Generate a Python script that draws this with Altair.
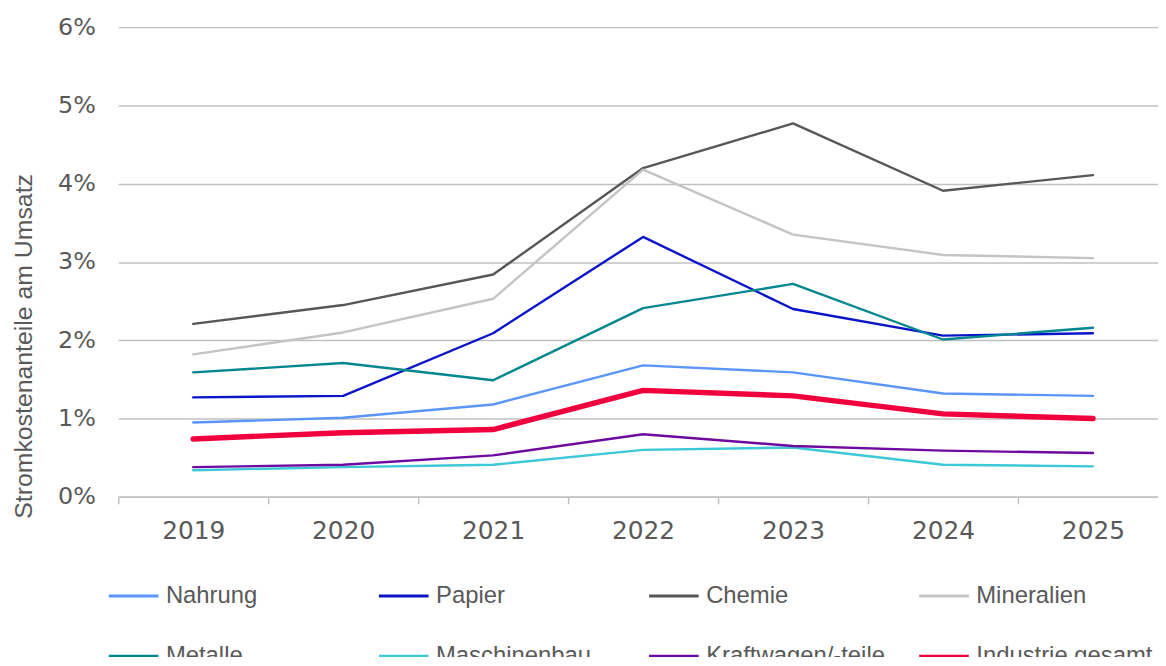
import altair as alt
import pandas as pd

years = ["2019", "2020", "2021", "2022", "2023", "2024", "2025"]
series_names = ["Nahrung", "Papier", "Chemie", "Mineralien", "Metalle",
                "Maschinenbau", "Kraftwagen/-teile", "Industrie gesamt"]
colors = ["#5A96FA", "#0A14C8", "#55575A", "#C4C4C4", "#00878F",
          "#3CC8D7", "#6E0AA0", "#F0003C"]

nahrung = [0.95, 1.01, 1.18, 1.68, 1.59, 1.32, 1.29]
papier = [1.27, 1.29, 2.09, 3.32, 2.40, 2.06, 2.09]
chemie = [2.21, 2.45, 2.84, 4.20, 4.77, 3.91, 4.11]
mineralien = [1.82, 2.10, 2.53, 4.18, 3.35, 3.09, 3.05]
metalle = [1.59, 1.71, 1.49, 2.41, 2.72, 2.01, 2.16]
maschinenbau = [0.34, 0.38, 0.41, 0.60, 0.63, 0.41, 0.39]
kraftwagen = [0.38, 0.41, 0.53, 0.80, 0.65, 0.59, 0.56]
industrie = [0.74, 0.82, 0.86, 1.36, 1.29, 1.06, 1.00]

y_ticks = [0, 1, 2, 3, 4, 5, 6]

all_values = [nahrung, papier, chemie, mineralien, metalle,
              maschinenbau, kraftwagen, industrie]
rows = []
for i, (name, vals) in enumerate(zip(series_names, all_values)):
    for y, v in zip(years, vals):
        rows.append({"year": y, "series": name, "value": v, "order": i})
df = pd.DataFrame(rows)

FONT = "DejaVu Sans"
SANS = "Liberation Sans"
GRAY = "#595959"
GRID = "#C0C0C0"

chart = alt.Chart(df).mark_line(strokeCap="round", strokeJoin="round").encode(
    x=alt.X("year:O", bandPosition=0.5,
            scale=alt.Scale(type="band", paddingInner=0, paddingOuter=0, range=[0, 1057]),
            axis=alt.Axis(title=None, labelAngle=0, labelFont=FONT, labelFontSize=25,
                          labelColor=GRAY, labelPadding=15, tickBand="extent",
                          tickSize=7, tickColor=GRID, tickWidth=1.5,
                          domainColor=GRID, domainWidth=1.5, grid=False)),
    y=alt.Y("value:Q",
            scale=alt.Scale(domain=[0, 6], nice=False, zero=True),
            axis=alt.Axis(title="Stromkostenanteile am Umsatz", values=y_ticks,
                          labelExpr="datum.value + '%'", labelFont=FONT, labelFontSize=24,
                          labelColor=GRAY, labelPadding=23, ticks=False, tickSize=0,
                          domain=False, grid=True, gridColor=GRID, gridWidth=1.5,
                          titleFont=SANS, titleFontSize=25, titleColor=GRAY,
                          titleFontWeight="normal", titleX=-95, titleY=321,
                          titleAngle=270, titleAlign="center", titleBaseline="middle")),
    color=alt.Color("series:N",
                    scale=alt.Scale(domain=series_names, range=colors),
                    legend=alt.Legend(title=None, orient="none", legendX=-11, legendY=546,
                                      direction="horizontal", columns=4, gridAlign="all",
                                      symbolType="stroke", symbolSize=2500,
                                      symbolStrokeWidth=3, labelOffset=6,
                                      labelFont=SANS, labelFontSize=24,
                                      labelColor=GRAY, columnPadding=27, rowPadding=22,
                                      padding=0, labelLimit=400)),
    strokeWidth=alt.condition(alt.datum.series == "Industrie gesamt",
                              alt.value(5.5), alt.value(2.4)),
    order=alt.Order("order:Q"),
).properties(
    width=1047, height=473,
    autosize=alt.AutoSizeParams(type="none"),
    padding={"left": 111, "top": 17, "right": 0, "bottom": 159},
).configure_view(stroke=None)

chart.save("out.html", embed_options={"renderer": "svg", "actions": False})
